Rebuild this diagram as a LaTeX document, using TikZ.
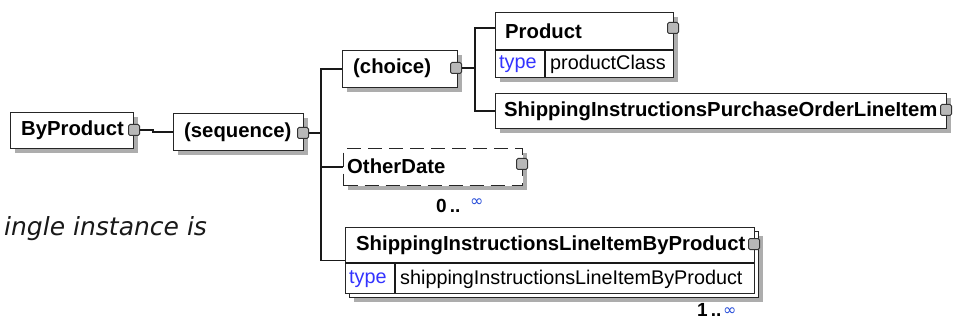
\documentclass[tikz,border=0pt]{standalone}
\usepackage{fontspec}
\setmainfont{Liberation Sans}
\newfontfamily\dejavu{DejaVu Sans}
\usetikzlibrary{shadows}
\definecolor{typeblue}{rgb}{0.2,0.2,1}
\definecolor{infblue}{rgb}{0.15,0.3,0.85}
\begin{document}
\begin{tikzpicture}[x=1pt,y=-1pt,
  elem/.style={draw=black!85, line width=1.2pt, fill=white, rectangle, inner sep=0pt, anchor=north west,
     drop shadow={shadow xshift=4pt, shadow yshift=-4pt, fill=black!32, opacity=1}},
  plainbox/.style={draw=black!85, line width=1.2pt, fill=white, rectangle, inner sep=0pt, anchor=north west},
  optelem/.style={elem, dash pattern=on 14pt off 7pt},
  plug/.style={draw=black!80, fill=black!28, rounded corners=1.5pt, line width=1pt, minimum size=11pt, inner sep=0pt},
  ename/.style={font=\fontsize{20.3}{23}\selectfont\bfseries, anchor=west, inner sep=0pt},
  tname/.style={font=\fontsize{19.8}{23}\selectfont, anchor=west, inner sep=0pt},
  ttype/.style={font=\fontsize{19.8}{23}\selectfont, text=typeblue, anchor=west, inner sep=0pt},
  wire/.style={draw=black!90, line width=1.2pt},
  occ/.style={font=\fontsize{19}{22}\selectfont\bfseries, anchor=base west, inner sep=0pt},
  inf/.style={font=\fontsize{16}{18}\dejavu, text=infblue, anchor=base west, inner sep=0pt}]
\useasboundingbox (0,0) rectangle (957,320);
\clip (0,0) rectangle (957,320);
\fill[white] (0,0) rectangle (957,320);

% left italic text
\node[font=\fontsize{25}{28}\dejavu\itshape, anchor=base west, inner sep=0pt, text=black!90] (note) at (4,236) {ingle instance is};

% ByProduct
\node[elem, minimum width=123pt, minimum height=36pt] (byp) at (10,112) {};
\node[ename] (bypt) at (21,130) {ByProduct};
\node[plug] (bypp) at (134,130) {};

% sequence
\node[elem, minimum width=130pt, minimum height=37pt] (seq) at (173,113) {};
\node[ename] (seqt) at (184,132) {(sequence)};
\node[plug] (seqp) at (303,133) {};

% choice
\node[elem, minimum width=115pt, minimum height=37pt] (cho) at (342,50) {};
\node[ename] (chot) at (353,68) {(choice)};
\node[plug] (chop) at (456,68) {};

% Product
\node[elem, minimum width=178pt, minimum height=65pt] (prod) at (495,12) {};
\draw[wire] (495,50) -- (673,50);
\draw[wire] (545,50) -- (545,77);
\node[ename] (prodt) at (505,31) {Product};
\node[ttype] (prodty) at (499,64) {type};
\node[tname] (prodc) at (550,64) {productClass};
\node[plug] (prodp) at (673,28) {};

% ShippingInstructionsPurchaseOrderLineItem
\node[elem, minimum width=451pt, minimum height=35pt] (spo) at (495,93) {};
\node[ename] (spot) at (504,111) {ShippingInstructionsPurchaseOrderLineItem};
\node[plug] (spop) at (946,110) {};

% OtherDate
\node[optelem, minimum width=179pt, minimum height=37pt] (od) at (343,148) {};
\node[ename] (odt) at (347,166) {OtherDate};
\node[plug] (odp) at (522,164) {};
\node[occ] (odo) at (436,212) {0\,..};
\node[inf] (odi) at (470,207) {∞};

% ShippingInstructionsLineItemByProduct (multiple)
\node[elem, minimum width=409pt, minimum height=66pt] (silb) at (349,231) {};
\node[plainbox, minimum width=409pt, minimum height=66pt] (sil) at (345,227) {};
\draw[wire] (345,263) -- (754,263);
\draw[wire] (395,263) -- (395,293);
\node[ename] (silt) at (356,245) {ShippingInstructionsLineItemByProduct};
\node[ttype] (silty) at (349,279) {type};
\node[tname] (silc) at (400,279) {shippingInstructionsLineItemByProduct};
\node[plug] (silp) at (754,244) {};
\node[occ] (silo) at (697,316) {1\,..};
\node[inf] (sili) at (723,315) {∞};

% connectors
\coordinate (sj) at (321,133);
\coordinate (cj) at (475,68);
\draw[wire] (bypp.east) -- ++(13,0) |- (seq.west);
\draw[wire] (seqp.east) -- (sj);
\draw[wire] (sj) |- (cho.west);
\draw[wire] (sj) |- (od.west);
\draw[wire] (sj) |- (sil.west);
\draw[wire] (chop.east) -- (cj);
\draw[wire] (cj) |- (495,28);
\draw[wire] (cj) |- (spo.west);
\end{tikzpicture}
\end{document}
